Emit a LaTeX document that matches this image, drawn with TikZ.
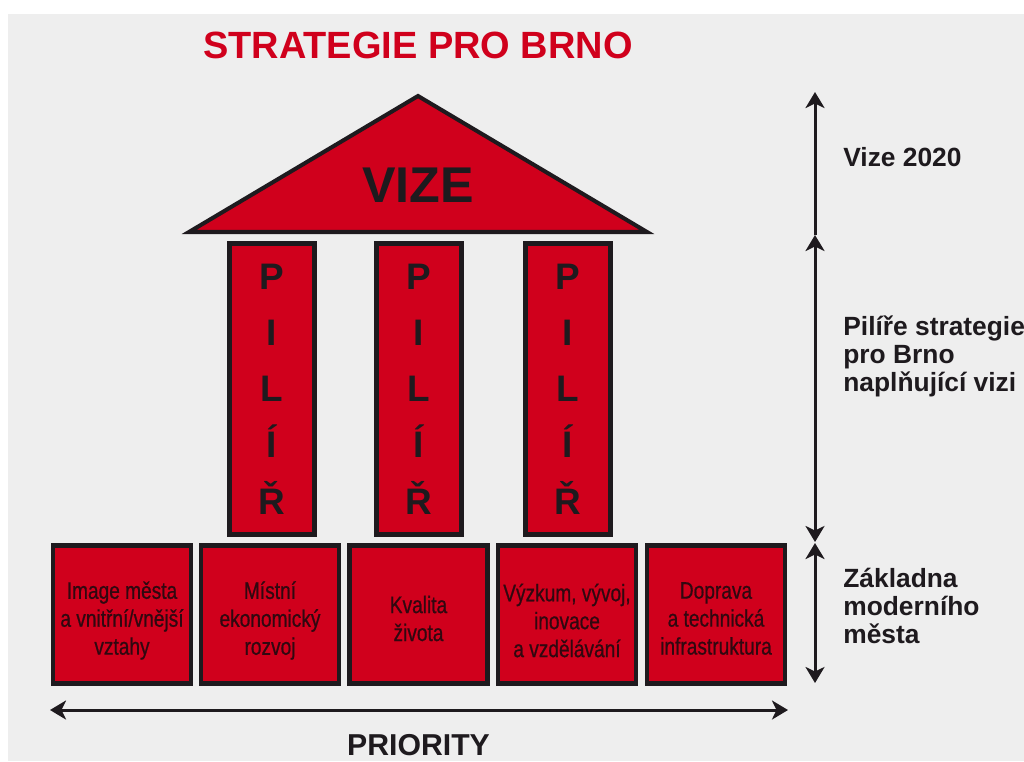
\documentclass[tikz,border=0pt]{standalone}
\usepackage{fontspec}
\setmainfont{Liberation Sans}
\newfontfamily\narrowfont[FakeStretch=0.8,FakeBold=0.6]{Liberation Sans}
\usetikzlibrary{arrows.meta}
\definecolor{brnored}{RGB}{208,0,28}
\definecolor{edgedark}{RGB}{30,26,30}
\definecolor{panelgray}{RGB}{238,238,238}
\definecolor{boxtext}{RGB}{48,8,16}

\tikzset{
  pillarbox/.style={draw=edgedark, fill=brnored, line width=2.8pt,
    minimum width=1.7cm, minimum height=5.82cm, inner sep=0pt,
    text=edgedark, align=center,
    font=\bfseries\fontsize{21}{32}\selectfont},
  basebox/.style={draw=edgedark, fill=brnored, line width=2.8pt,
    minimum width=2.76cm, minimum height=2.76cm, inner sep=0pt},
  baselabel/.style={text=boxtext, align=center, inner sep=0pt,
    font=\narrowfont\fontsize{13.6}{15.9}\selectfont},
  sidelabel/.style={anchor=west, align=left, text=edgedark, inner sep=0pt,
    font=\bfseries\fontsize{15}{15.9}\selectfont},
}

\begin{document}
\begin{tikzpicture}[x=0.02cm, y=-0.02cm, >={Stealth[length=0.32cm,width=0.38cm,inset=0.09cm]}]
        \useasboundingbox (0,0) rectangle (1024,761);
        \fill[white] (0,0) rectangle (1024,761);
        \fill[panelgray] (8,14) rectangle (1024,761);

        \node[text=brnored, font=\bfseries\fontsize{21.6}{24}\selectfont] (title) at (418,45) {STRATEGIE PRO BRNO};

        % roof
        \coordinate (apex) at (418,96);
        \coordinate (roofL) at (189,232);
        \coordinate (roofR) at (647,232);
        \draw[fill=brnored, draw=edgedark, line width=2.3pt] (roofL) -- (apex) -- (roofR) -- cycle;
        \node[text=edgedark, font=\bfseries\fontsize{28.6}{30}\selectfont] (vize) at (418,185) {VIZE};

        % pillars
        \node[pillarbox] (p1) at (272,389) {P\\I\\L\\Í\\Ř};
        \node[pillarbox] (p2) at (419,389) {P\\I\\L\\Í\\Ř};
        \node[pillarbox] (p3) at (568,389) {P\\I\\L\\Í\\Ř};

        % base
        \node[basebox] (b1) at (122,614.5) {};
        \node[basebox] (b2) at (270,614.5) {};
        \node[basebox] (b3) at (418.5,614.5) {};
        \node[basebox] (b4) at (567,614.5) {};
        \node[basebox] (b5) at (716,614.5) {};
        \node[baselabel] (t1) at ([yshift=-0.12cm]b1.center) {Image města\\a vnitřní/vnější\\vztahy};
        \node[baselabel] (t2) at ([yshift=-0.12cm]b2.center) {Místní\\ekonomický\\rozvoj};
        \node[baselabel] (t3) at ([yshift=-0.08cm]b3.center) {Kvalita\\života};
        \node[baselabel] (t4) at ([yshift=-0.12cm]b4.center) {Výzkum, vývoj,\\inovace\\a vzdělávání};
        \node[baselabel] (t5) at ([yshift=-0.08cm]b5.center) {Doprava\\a technická\\infrastruktura};

        \coordinate (prioL) at (50,710);
        \coordinate (prioR) at (788,710);
        \draw[<->, edgedark, line width=1.7pt] (prioL) -- (prioR);
        \node[text=edgedark, font=\bfseries\fontsize{17.2}{20}\selectfont] (prio) at (418.5,745.5) {PRIORITY};

        % levels on the right
        \coordinate (lvtop) at (815,92);
        \coordinate (lvroof) at (815,235);
        \coordinate (lvmid) at (815,542);
        \coordinate (lvmid2) at (815,543);
        \coordinate (lvbot) at (815,683);
        \draw[->, edgedark, line width=1.7pt] (lvroof) -- (lvtop);
        \draw[<->, edgedark, line width=1.7pt] (lvroof) -- (lvmid);
        \draw[<->, edgedark, line width=1.7pt] (lvmid2) -- (lvbot);

        \node[sidelabel] (l1) at (843,157) {Vize 2020};
        \node[sidelabel] (l2) at (843,356) {Pilíře strategie\\pro Brno\\naplňující vizi};
        \node[sidelabel] (l3) at (843,606) {Základna\\moderního\\města};
      \end{tikzpicture}
\end{document}
